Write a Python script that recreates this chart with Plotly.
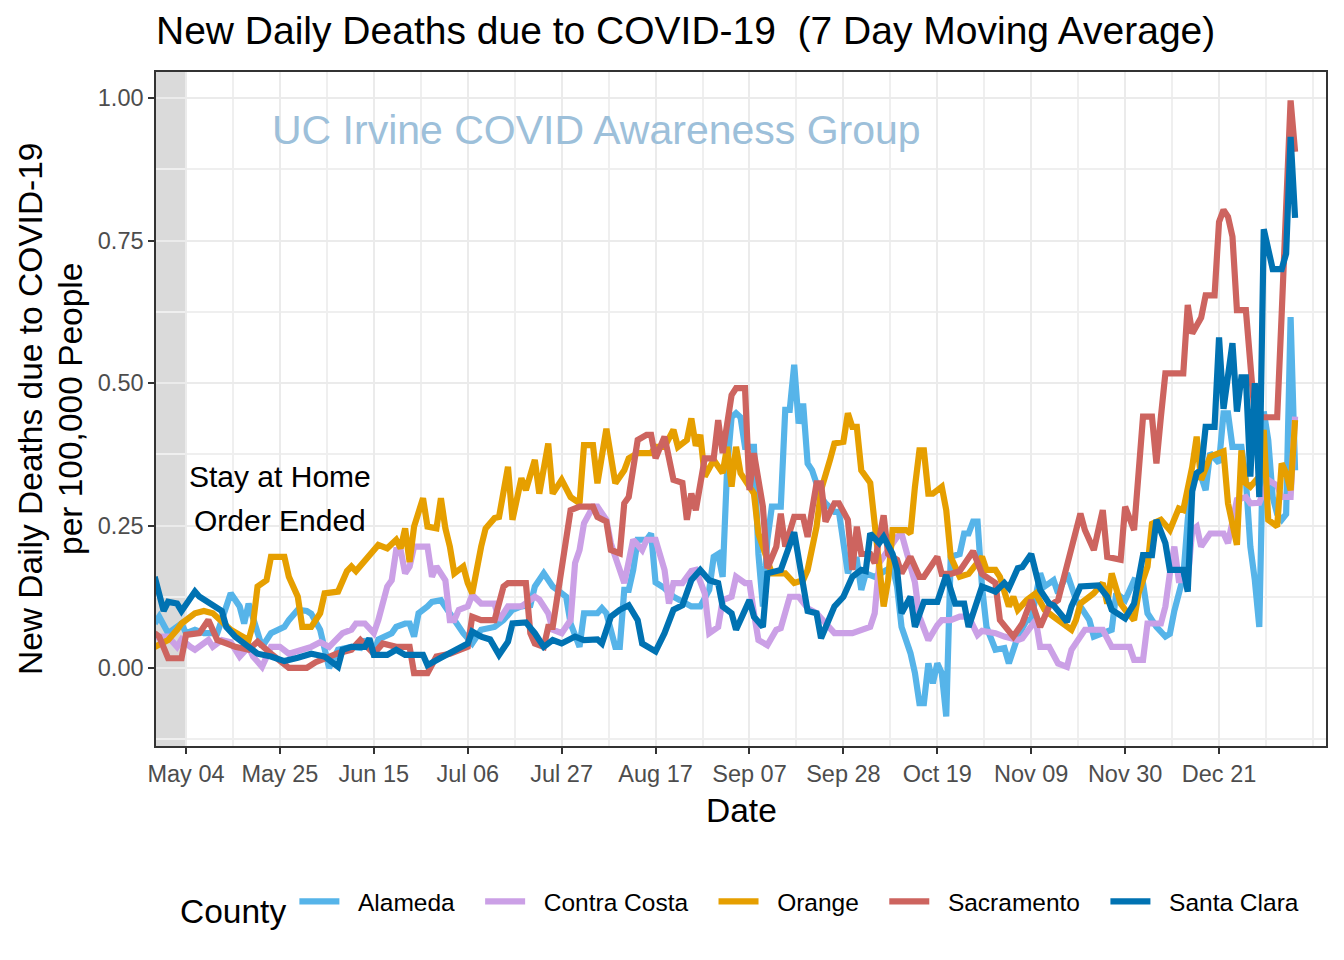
import pandas as pd
import plotly.graph_objects as go

START = pd.Timestamp("2020-04-27")

counties = ["Alameda", "Contra Costa", "Orange", "Sacramento", "Santa Clara"]
colors = ["#56B4E9", "#CBA0E6", "#E69F00", "#CD645F", "#0072B2"]

alameda_days = [0,1,3,6,7,9,11,14,15,17,19,20,21,23,24,26,29,30,32,34,35,37,38,39,41,44,46,47,49,50,53,54,56,57,58,59,61,62,64,66,68,69,71,73,76,78,80,82,84,85,87,89,90,92,93,95,96,99,100,101,103,104,105,106,107,108,110,111,112,114,116,118,120,122,124,125,126,127,128,129,130,131,132,134,135,136,137,138,140,141,142,143,144,145,146,147,149,150,152,153,155,156,157,158,159,161,163,165,166,167,168,169,170,171,172,173,174,175,176,177,178,180,181,182,183,184,185,186,188,190,191,193,195,196,198,199,201,202,204,206,209,210,212,214,215,217,219,221,222,224,226,227,228,230,231,232,234,235,236,238,239,240,241,243,244,245,246,247,248,249,250,251,252,253,254,255]
alameda_vals = [0.078,0.09,0.061,0.078,0.061,0.067,0.061,0.061,0.084,0.131,0.108,0.078,0.113,0.061,0.037,0.061,0.072,0.084,0.102,0.10,0.095,0.067,0.032,0.0,0.032,0.037,0.035,0.05,0.025,0.05,0.061,0.072,0.078,0.078,0.055,0.096,0.108,0.116,0.119,0.096,0.072,0.061,0.043,0.067,0.072,0.084,0.102,0.108,0.11,0.143,0.166,0.143,0.137,0.125,0.078,0.037,0.096,0.096,0.105,0.096,0.037,0.037,0.137,0.137,0.172,0.225,0.225,0.236,0.15,0.14,0.125,0.115,0.108,0.108,0.137,0.195,0.2,0.16,0.35,0.44,0.447,0.44,0.388,0.388,0.2,0.108,0.225,0.283,0.283,0.453,0.453,0.532,0.429,0.464,0.359,0.347,0.30,0.289,0.274,0.274,0.166,0.19,0.19,0.137,0.166,0.16,0.17,0.178,0.143,0.072,0.049,0.026,-0.009,-0.062,-0.062,0.008,-0.027,0.008,-0.009,-0.085,0.195,0.2,0.236,0.236,0.257,0.257,0.143,0.072,0.032,0.035,0.008,0.055,0.084,0.084,0.166,0.143,0.154,0.131,0.166,0.12,0.084,0.055,0.061,0.067,0.131,0.119,0.154,0.149,0.096,0.072,0.055,0.06,0.1,0.16,0.26,0.336,0.336,0.312,0.377,0.36,0.447,0.447,0.388,0.388,0.33,0.213,0.154,0.072,0.45,0.40,0.30,0.27,0.26,0.27,0.616,0.347]

contra_days = [0,3,5,6,8,9,12,13,15,17,19,21,22,24,26,28,30,32,35,37,39,42,44,45,47,49,50,52,53,54,55,56,57,58,61,62,63,65,66,67,68,70,71,73,76,77,79,82,83,85,86,88,89,91,93,94,95,96,98,99,101,102,103,105,107,109,110,112,114,115,116,118,120,121,123,124,126,127,129,130,132,133,134,135,137,139,140,142,144,146,148,150,152,156,158,160,161,162,164,166,167,168,170,171,172,173,175,176,178,180,182,184,185,188,190,193,194,197,198,200,202,204,205,207,208,212,214,218,219,221,222,225,226,227,228,229,231,232,233,234,236,239,240,242,244,245,247,249,251,252,254,255]
contra_vals = [0.055,0.055,0.037,0.05,0.037,0.032,0.049,0.037,0.049,0.045,0.02,0.037,0.02,0.002,0.037,0.037,0.025,0.03,0.037,0.045,0.037,0.061,0.067,0.078,0.078,0.061,0.084,0.143,0.154,0.207,0.207,0.166,0.178,0.213,0.213,0.16,0.178,0.154,0.084,0.084,0.102,0.108,0.128,0.113,0.113,0.084,0.108,0.108,0.113,0.125,0.12,0.096,0.067,0.061,0.084,0.184,0.207,0.254,0.283,0.283,0.26,0.219,0.195,0.149,0.225,0.207,0.225,0.225,0.172,0.113,0.149,0.149,0.17,0.172,0.131,0.061,0.072,0.119,0.125,0.16,0.149,0.149,0.096,0.049,0.04,0.067,0.07,0.125,0.125,0.105,0.096,0.078,0.061,0.061,0.067,0.072,0.096,0.184,0.207,0.23,0.236,0.207,0.15,0.09,0.072,0.049,0.075,0.084,0.084,0.09,0.09,0.058,0.065,0.061,0.055,0.049,0.052,0.084,0.037,0.037,0.008,0.002,0.032,0.055,0.067,0.067,0.037,0.037,0.014,0.014,0.078,0.078,0.108,0.166,0.213,0.154,0.154,0.242,0.248,0.213,0.236,0.236,0.219,0.295,0.30,0.289,0.29,0.33,0.32,0.30,0.30,0.441]

orange_days = [0,3,5,6,9,11,13,15,17,19,21,22,23,25,26,29,30,32,33,35,37,38,41,43,44,45,48,50,52,54,55,56,57,58,60,61,63,64,65,66,67,69,70,71,73,74,76,77,79,80,82,83,85,86,88,89,91,93,95,96,98,99,101,103,105,106,108,111,112,114,116,117,119,120,121,122,123,125,127,128,129,130,131,132,134,135,137,138,141,143,145,146,148,149,151,152,154,155,156,157,158,160,161,162,163,164,165,168,169,170,171,172,173,174,176,177,178,180,182,185,186,188,189,191,192,193,195,197,199,201,203,205,206,207,209,210,212,213,214,216,217,219,220,222,223,225,227,229,230,232,233,234,236,239,240,242,243,244,245,247,248,249,251,252,253,254,255]
orange_vals = [0.037,0.049,0.067,0.078,0.096,0.10,0.096,0.081,0.067,0.058,0.049,0.078,0.143,0.154,0.195,0.195,0.16,0.125,0.072,0.072,0.096,0.131,0.134,0.17,0.178,0.17,0.2,0.216,0.21,0.225,0.21,0.245,0.186,0.248,0.298,0.248,0.245,0.298,0.245,0.213,0.166,0.178,0.149,0.131,0.213,0.245,0.263,0.265,0.353,0.26,0.333,0.312,0.365,0.306,0.394,0.306,0.33,0.30,0.289,0.391,0.391,0.324,0.42,0.324,0.347,0.368,0.377,0.377,0.388,0.388,0.418,0.388,0.40,0.438,0.39,0.409,0.336,0.365,0.342,0.388,0.318,0.388,0.342,0.33,0.306,0.236,0.19,0.166,0.166,0.149,0.154,0.172,0.248,0.312,0.365,0.394,0.397,0.447,0.423,0.423,0.347,0.325,0.253,0.17,0.108,0.154,0.242,0.242,0.236,0.318,0.382,0.382,0.306,0.306,0.318,0.277,0.195,0.16,0.165,0.195,0.172,0.172,0.16,0.108,0.125,0.102,0.119,0.131,0.102,0.09,0.078,0.067,0.084,0.113,0.125,0.131,0.149,0.113,0.166,0.113,0.102,0.084,0.131,0.178,0.253,0.26,0.242,0.28,0.277,0.353,0.406,0.33,0.371,0.38,0.289,0.216,0.382,0.324,0.318,0.336,0.418,0.26,0.248,0.359,0.342,0.312,0.435]

sacramento_days = [0,1,3,6,7,10,12,14,16,18,21,23,26,28,30,34,36,41,44,46,49,51,54,57,58,61,63,66,70,71,73,76,78,79,83,84,85,87,88,89,91,93,95,98,99,101,102,104,105,106,108,110,111,112,114,116,118,119,120,121,123,125,126,127,129,130,132,133,134,136,137,139,140,141,143,145,146,148,149,150,152,153,155,156,157,158,160,161,163,164,166,167,169,171,172,175,176,178,180,183,185,188,189,192,194,196,198,200,202,204,207,208,210,212,213,216,217,219,221,223,224,225,226,230,231,232,234,235,237,238,239,240,241,242,244,246,251,252,253,254,255]
sacramento_vals = [0.061,0.055,0.017,0.017,0.058,0.061,0.084,0.049,0.043,0.037,0.032,0.046,0.025,0.011,0.0,0.0,0.01,0.026,0.032,0.049,0.025,0.043,0.037,0.037,-0.009,-0.009,0.02,0.025,0.037,0.09,0.084,0.084,0.143,0.149,0.149,0.061,0.043,0.037,0.072,0.072,0.172,0.277,0.283,0.283,0.265,0.257,0.207,0.201,0.289,0.30,0.40,0.409,0.409,0.368,0.406,0.33,0.325,0.26,0.306,0.277,0.368,0.368,0.435,0.377,0.479,0.491,0.491,0.312,0.377,0.283,0.175,0.213,0.271,0.213,0.265,0.265,0.23,0.324,0.324,0.257,0.289,0.289,0.26,0.172,0.248,0.2,0.2,0.184,0.268,0.2,0.19,0.166,0.195,0.16,0.16,0.195,0.165,0.165,0.17,0.205,0.165,0.149,0.084,0.055,0.078,0.119,0.072,0.108,0.119,0.184,0.271,0.242,0.207,0.277,0.195,0.19,0.283,0.242,0.441,0.441,0.359,0.441,0.517,0.517,0.637,0.587,0.615,0.654,0.654,0.783,0.804,0.792,0.757,0.628,0.628,0.44,0.44,0.62,0.80,0.996,0.906]

santa_clara_days = [0,2,3,5,6,9,10,12,13,15,16,18,21,23,26,29,32,35,38,41,42,44,47,48,49,52,54,56,60,61,64,67,70,71,73,75,77,79,80,83,85,87,89,91,94,96,99,100,102,104,106,108,109,112,114,116,118,120,122,124,126,127,129,130,133,134,136,137,140,143,145,146,148,149,152,154,156,158,159,160,162,163,165,166,167,169,170,172,175,177,179,181,182,184,185,188,190,191,193,194,196,198,200,201,204,205,207,211,213,214,217,219,220,221,223,224,226,227,230,231,232,233,234,235,237,238,239,240,241,242,243,244,245,246,247,248,250,252,253,254,255]
santa_clara_vals = [0.16,0.10,0.116,0.113,0.10,0.134,0.125,0.116,0.11,0.10,0.072,0.055,0.037,0.025,0.02,0.012,0.018,0.025,0.02,0.002,0.032,0.037,0.037,0.052,0.023,0.023,0.032,0.023,0.023,0.005,0.018,0.032,0.043,0.064,0.055,0.05,0.023,0.046,0.078,0.08,0.061,0.037,0.049,0.043,0.055,0.049,0.05,0.043,0.09,0.102,0.11,0.084,0.043,0.029,0.061,0.102,0.11,0.154,0.172,0.154,0.149,0.108,0.096,0.067,0.119,0.09,0.072,0.166,0.172,0.238,0.143,0.1,0.096,0.052,0.108,0.125,0.16,0.172,0.17,0.236,0.219,0.23,0.2,0.172,0.096,0.125,0.072,0.116,0.116,0.163,0.113,0.113,0.072,0.125,0.143,0.134,0.149,0.14,0.175,0.177,0.2,0.137,0.113,0.11,0.081,0.108,0.143,0.145,0.125,0.102,0.087,0.113,0.154,0.198,0.198,0.26,0.219,0.172,0.172,0.134,0.31,0.342,0.348,0.423,0.423,0.58,0.455,0.52,0.57,0.45,0.51,0.51,0.336,0.50,0.30,0.77,0.70,0.70,0.727,0.932,0.79]

series_days = [alameda_days, contra_days, orange_days, sacramento_days, santa_clara_days]
series_vals = [alameda_vals, contra_vals, orange_vals, sacramento_vals, santa_clara_vals]

tick_dates = pd.date_range("2020-05-04", "2020-12-21", freq="21D")
x_range = [START + pd.Timedelta(hours=7), pd.Timestamp("2021-01-13 22:00")]
y_range = [-0.137, 1.046]
y_ticks = [0, 0.25, 0.5, 0.75, 1.0]
y_minor = [-0.125, 0.125, 0.375, 0.625, 0.875]
order_end = pd.Timestamp("2020-05-04")

NB = "\u00a0"
fig = go.Figure()
for name, col, days, vals in zip(counties, colors, series_days, series_vals):
    dates = START + pd.to_timedelta(days, unit="D")
    fig.add_trace(go.Scatter(x=dates, y=vals, mode="lines", name=NB * 2 + name + NB * 3,
                             line=dict(color=col, width=6.2)))

fig.add_shape(type="rect", xref="x", yref="paper", x0=x_range[0], x1=order_end,
              y0=0, y1=1, fillcolor="#DADADA", line_width=0, layer="between")

font_main = "Liberation Sans, Arial, sans-serif"
PW, PH = 1170, 674  # plot area size in px

def px_x(x):
    return (x - 156) / PW

def px_y(y):
    return (746 - y) / PH

def note(text, x, y, size, color="black", angle=0, xanchor="center"):
    fig.add_annotation(text=text, x=px_x(x), y=px_y(y), xref="paper", yref="paper",
                       xanchor=xanchor, yanchor="middle", textangle=angle, showarrow=False,
                       font=dict(size=size, color=color, family=font_main))

note("Stay at Home", 280, 477, 30)
note("Order Ended", 280, 520, 30)
note("UC Irvine COVID Awareness Group", 270, 130, 41, color="#9DC0DA", xanchor="left")
note("New Daily Deaths due to COVID-19", 30, 409, 33.5, angle=-90)
note("per 100,000 People", 70, 409, 33.5, angle=-90)
note("Date", 741, 810, 33.5)

# page body has an 8px margin, so the figure is drawn 8px smaller and offset
W, H, OFF = 1336, 952, 8
fig.update_layout(
    width=W, height=H,
    margin=dict(l=156 - OFF, r=W - (1326 - OFF), t=72 - OFF, b=H - (746 - OFF)),
    paper_bgcolor="white", plot_bgcolor="white",
    font=dict(family=font_main, color="black"),
    title=dict(text="New Daily Deaths due to COVID-19 " + NB + "(7 Day Moving Average)",
               x=(156 - OFF) / W, xanchor="left", xref="container",
               y=1 - (30 - OFF) / H, yanchor="middle", yref="container",
               font=dict(size=39, color="black", family=font_main)),
    legend=dict(orientation="h", x=px_x(178), xanchor="left", y=px_y(906), yanchor="middle",
                title=dict(text="County", side="left", font=dict(size=33.5, color="black")),
                font=dict(size=24.5, color="black"), itemwidth=40,
                bgcolor="rgba(0,0,0,0)"),
    showlegend=True,
)

fig.update_xaxes(range=x_range, type="date", tickvals=tick_dates, tickformat="%b %d",
                 ticks="outside", ticklen=6, tickcolor="#333333", tickwidth=1.5,
                 tickfont=dict(size=23.5, color="#4D4D4D"),
                 showgrid=True, gridcolor="#EBEBEB", gridwidth=2.2,
                 minor=dict(dtick=10.5 * 86400000, tick0="2020-05-04", showgrid=True,
                            gridcolor="#EFEFEF", gridwidth=1.8),
                 showline=True, linecolor="#333333", linewidth=1.5, mirror=True, zeroline=False)
fig.update_yaxes(range=y_range, tickvals=y_ticks, tickformat=".2f",
                 ticks="outside", ticklen=6, tickcolor="#333333", tickwidth=1.5,
                 tickfont=dict(size=23.5, color="#4D4D4D"),
                 showgrid=True, gridcolor="#EBEBEB", gridwidth=2.2,
                 minor=dict(tickvals=y_minor, showgrid=True, gridcolor="#EFEFEF", gridwidth=1.8),
                 showline=True, linecolor="#333333", linewidth=1.5, mirror=True, zeroline=False)

fig.write_html("out.html")
